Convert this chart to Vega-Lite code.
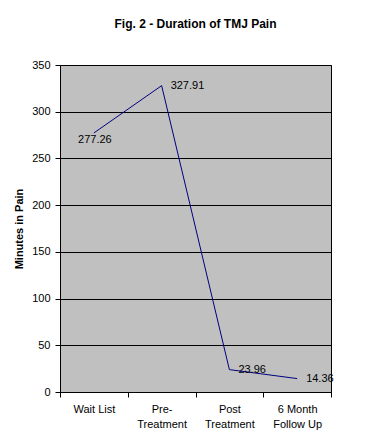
{
  "$schema": "https://vega.github.io/schema/vega-lite/v6.json",
  "autosize": "none",
  "width": 271,
  "height": 327,
  "padding": {"left": 60, "top": 65, "right": 38, "bottom": 55},
  "background": "white",
  "title": {
    "text": "Fig. 2 - Duration of TMJ Pain",
    "font": "Liberation Sans",
    "fontSize": 12,
    "fontWeight": "bold",
    "color": "black",
    "anchor": "middle",
    "frame": "group",
    "offset": 28
  },
  "data": {
    "values": [
      {"stage": "Wait List", "minutes": 277.26},
      {"stage": "Pre-Treatment", "minutes": 327.91},
      {"stage": "Post Treatment", "minutes": 23.96},
      {"stage": "6 Month Follow Up", "minutes": 14.36}
    ]
  },
  "encoding": {
    "x": {
      "field": "stage",
      "type": "nominal",
      "sort": null,
      "bandPosition": 0.5,
      "scale": {"type": "band", "paddingInner": 0, "paddingOuter": 0},
      "axis": {
        "title": null,
        "labelAngle": 0,
        "tickBand": "extent",
        "labelExpr": "datum.value == 'Pre-Treatment' ? ['Pre-', 'Treatment'] : datum.value == 'Post Treatment' ? ['Post', 'Treatment'] : datum.value == '6 Month Follow Up' ? ['6 Month', 'Follow Up'] : datum.value",
        "labelPadding": 6,
        "labelLineHeight": 15
      }
    },
    "y": {
      "field": "minutes",
      "type": "quantitative",
      "scale": {"domain": [0, 350], "nice": false},
      "axis": {
        "title": "Minutes in Pain",
        "values": [0, 50, 100, 150, 200, 250, 300, 350],
        "grid": true,
        "titlePadding": 7
      }
    }
  },
  "layer": [
    {
      "mark": {"type": "line", "color": "#000080", "strokeWidth": 1}
    },
    {
      "transform": [{"filter": "datum.stage != 'Wait List'"}],
      "mark": {"type": "text", "align": "left", "dx": 9, "dy": 0, "font": "Liberation Sans", "fontSize": 11, "color": "black"},
      "encoding": {"text": {"field": "minutes", "type": "quantitative", "format": ".2f"}}
    },
    {
      "transform": [{"filter": "datum.stage == 'Wait List'"}],
      "mark": {"type": "text", "align": "center", "dx": 1, "dy": 7, "font": "Liberation Sans", "fontSize": 11, "color": "black"},
      "encoding": {"text": {"field": "minutes", "type": "quantitative", "format": ".2f"}}
    }
  ],
  "config": {
    "view": {"fill": "#C0C0C0", "stroke": "black", "strokeWidth": 1},
    "axis": {
      "labelFont": "Liberation Sans",
      "labelFontSize": 11,
      "labelColor": "black",
      "titleFont": "Liberation Sans",
      "titleFontSize": 11,
      "titleFontWeight": "bold",
      "titleColor": "black",
      "domainColor": "black",
      "tickColor": "black",
      "tickSize": 5,
      "gridColor": "black",
      "gridOpacity": 1,
      "gridWidth": 1,
      "labelPadding": 5
    }
  }
}
